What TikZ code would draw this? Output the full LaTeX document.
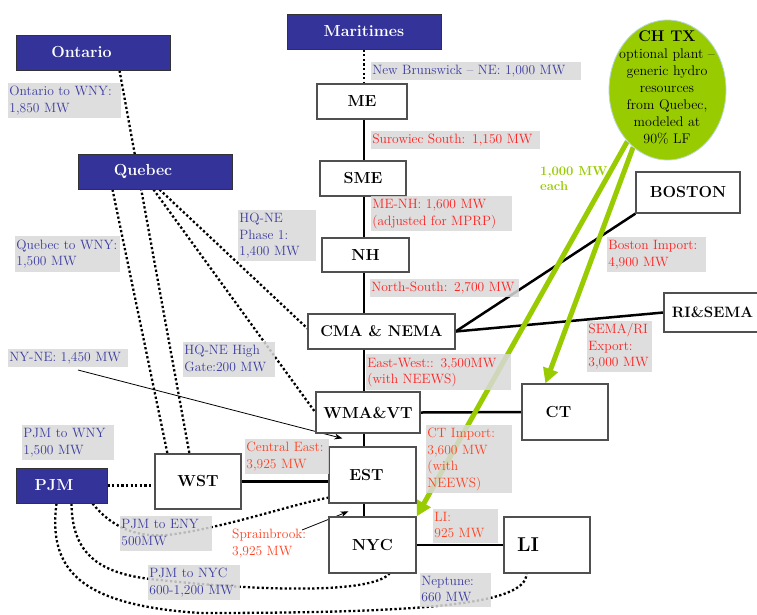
\documentclass[tikz,border=0pt]{standalone}
\usetikzlibrary{shapes.geometric,arrows.meta,calc,backgrounds}
\definecolor{regblue}{RGB}{51,51,153}
\definecolor{lblue}{RGB}{60,60,160}
\definecolor{lred}{RGB}{255,32,32}
\definecolor{lorange}{RGB}{255,64,32}
\definecolor{lgray}{RGB}{217,217,217}
\definecolor{chgreen}{RGB}{153,204,0}
\definecolor{boxedge}{RGB}{80,80,80}
\definecolor{chedge}{RGB}{185,215,225}
\newcommand{\tl}[1]{\begin{tabular}{@{}l@{}}#1\end{tabular}}
\begin{document}
\begin{tikzpicture}[x=1pt,y=-1pt,
  nbox/.style={draw=boxedge,line width=1.2pt,fill=white,inner sep=0pt,font=\bfseries\fontsize{16}{18}\selectfont},
  rbox/.style={draw=black!80,line width=1pt,fill=regblue,text=white,inner sep=0pt,font=\bfseries\fontsize{16}{18}\selectfont},
  lbl/.style 2 args={anchor=north west,fill=lgray,fill opacity=0.85,text opacity=1,inner xsep=1.2pt,inner ysep=0pt,text width=#1,minimum height=#2,font=\fontsize{13.5}{16.5}\selectfont},
  dotl/.style={line width=2.3pt,dash pattern=on 2.3pt off 2.3pt},
  solidl/.style={line width=2.5pt},
  thinarr/.style={line width=0.8pt,-{Stealth[length=8pt,width=6pt]}},
  greenarr/.style={draw=chgreen,line width=5pt,-{Triangle[length=15pt,width=15pt]}}
]
\useasboundingbox (0,0) rectangle (757,614);

% region boxes
\node[rbox,minimum width=154pt,minimum height=35pt] (Ont) at (93,52.5) {Ontario\hspace*{23pt}};
\node[rbox,minimum width=154pt,minimum height=35pt] (Que) at (155,171.5) {Quebec\hspace*{24pt}};
\node[rbox,minimum width=154pt,minimum height=35pt] (Mar) at (364,31.5) {Maritimes};
\node[rbox,minimum width=91pt,minimum height=35pt] (PJM) at (61.5,485.5) {PJM\hspace*{15pt}};

% zone boxes
\node[nbox,minimum width=90pt,minimum height=35pt] (ME) at (362,101.5) {ME};
\node[nbox,minimum width=86pt,minimum height=35pt] (SME) at (363,178.5) {SME};
\node[nbox,minimum width=87pt,minimum height=34pt] (NH) at (365.5,255) {NH};
\node[nbox,minimum width=147pt,minimum height=35pt,font=\bfseries\fontsize{15.5}{18}\selectfont] (CMA) at (381.5,331.5) {CMA \& NEMA};
\node[nbox,minimum width=104pt,minimum height=41pt] (WMA) at (368,412.5) {WMA\&VT};
\node[nbox,minimum width=87pt,minimum height=56pt] (EST) at (372.5,475) {EST\hspace*{12pt}};
\node[nbox,minimum width=87pt,minimum height=56pt] (NYC) at (372.5,545) {NYC};
\node[nbox,minimum width=86pt,minimum height=56pt,font=\bfseries\fontsize{20}{22}\selectfont] (LI) at (547,545) {LI\hspace*{38pt}};
\node[nbox,minimum width=86pt,minimum height=56pt] (CT) at (565,412) {CT\hspace*{13pt}};
\node[nbox,minimum width=86pt,minimum height=55pt] (WST) at (198,481.5) {WST};
\node[nbox,minimum width=104pt,minimum height=41pt] (BOS) at (688,192.5) {BOSTON};
\node[nbox,minimum width=106pt,minimum height=39pt,font=\bfseries\fontsize{15}{18}\selectfont] (RI) at (717,312.5) {RI\&SEMA\hspace*{9pt}};

% CH TX ellipse
\node[ellipse,fill=chgreen,draw=chedge,line width=0.8pt,minimum width=117pt,minimum height=140pt,inner sep=0pt] (CH) at (667.5,90) {};
\node[align=center,inner sep=0pt,font=\fontsize{14}{17}\selectfont] (CHT) at (667,87) {{\bfseries\fontsize{15.5}{17}\selectfont CH TX}\\optional plant --\\generic hydro\\resources\\from Quebec,\\modeled at\\90\% LF};
\node[anchor=north west,inner sep=0pt,align=left,text=chgreen,font=\bfseries\fontsize{13}{15.5}\selectfont] (each) at (540,166) {1,000 MW\\each};

% free ends
\coordinate (nyneS) at (78,370);
\coordinate (sprS) at (302,530);

% connectors
\begin{scope}[on background layer]
\fill[white] (0,0) rectangle (757,614);
% dotted interfaces
\draw[dotl] (Mar.south) -- (Mar.south |- ME.north);
\draw[dotl] ($(Ont.south west)+(104,0)$) -- ($(WST.north west)+(35,0)$);
\draw[dotl] ($(Que.south west)+(35,0)$) -- ($(WST.north west)+(13,0)$);
\draw[dotl] ($(Que.south west)+(82,0)$) -- ($(CMA.west)+(0,-3)$);
\draw[dotl] ($(Que.south west)+(76,0)$) -- (WMA.west);
\draw[dotl] (PJM.east) -- (PJM.east -| WST.west);
\draw[dotl] ($(PJM.south west)+(77,0)$) .. controls (110,525) and (135,540) .. (175,534) .. controls (230,526) and (290,505) .. ($(EST.south west)+(0,-6)$);
\draw[dotl] ($(PJM.south west)+(56,0)$) .. controls (72,555) and (100,575) .. (160,580) .. controls (250,590) and (370,595) .. ($(NYC.south)+(17,0)$);
\draw[dotl] ($(PJM.south west)+(41,0)$) .. controls (48,570) and (80,605) .. (200,613) .. controls (420,613) and (527,605) .. ($(LI.south west)+(23,0)$);
% solid interfaces
\draw[solidl] (ME.south -| Mar.south) -- (SME.north -| Mar.south);
\draw[solidl] (SME.south -| Mar.south) -- (NH.north -| Mar.south);
\draw[solidl] (NH.south -| Mar.south) -- (CMA.north -| Mar.south);
\draw[solidl] (CMA.south -| Mar.south) -- (WMA.north -| Mar.south);
\draw[solidl] (WMA.south -| Mar.south) -- (EST.north -| Mar.south);
\draw[solidl] (EST.south -| Mar.south) -- (NYC.north -| Mar.south);
\draw[solidl] (CMA.east) -- (BOS.south west);
\draw[solidl] (CMA.east) -- (RI.west);
\draw[solidl] (WMA.east) -- (CT.west);
\draw[solidl] (WST.east) -- (WST.east -| EST.west);
\draw[solidl] (NYC.east) -- (LI.west);
% thin arrows
\draw[thinarr] (nyneS) -- ($(EST.north west)+(14,-8)$);
\draw[thinarr] (sprS) -- ($(NYC.north west)+(20,-5)$);
% green arrows
\draw[greenarr] (CH.232) -- (NYC.north east);
\draw[greenarr] (CH.239) -- ($(CT.north west)+(24,0)$);
\end{scope}

% labels
\node[lbl={110pt}{35pt},text=lblue] (lOnt) at (8,83) {\tl{Ontario to WNY:\\1,850 MW}};
\node[lbl={102pt}{36pt},text=lblue] (lQue) at (15,236) {\tl{Quebec to WNY:\\1,500 MW}};
\node[lbl={75pt}{51pt},text=lblue] (lHQ) at (238,210) {\tl{HQ-NE\\Phase 1:\\1,400 MW}};
\node[lbl={117pt}{18pt},text=lblue] (lNYNE) at (8,349) {\tl{NY-NE: 1,450 MW}};
\node[lbl={89pt}{35pt},text=lblue] (lHG) at (183,342) {\tl{HQ-NE High\\Gate:200 MW}};
\node[lbl={89pt}{35pt},text=lblue] (lPW) at (22,425) {\tl{PJM to WNY\\1,500 MW}};
\node[lbl={89pt}{35pt},text=lblue] (lPE) at (120,516) {\tl{PJM to ENY\\500MW}};
\node[lbl={89pt}{35pt},text=lblue] (lPN) at (148,565) {\tl{PJM to NYC\\600-1,200 MW}};
\node[lbl={81pt}{35pt},text=lorange] (lCE) at (245,439) {\tl{Central East:\\3,925 MW}};
\node[lbl={207pt}{18pt},text=lblue] (lNB) at (371,62) {\tl{New Brunswick -- NE: 1,000 MW}};
\node[lbl={166pt}{18pt},text=lred] (lSur) at (371,131) {\tl{Surowiec South: 1,150 MW}};
\node[lbl={138pt}{35pt},text=lred] (lMN) at (371,196) {\tl{ME-NH: 1,600 MW\\(adjusted for MPRP)}};
\node[lbl={146pt}{18pt},text=lred] (lNS) at (370,279) {\tl{North-South: 2,700 MW}};
\node[lbl={142pt}{36pt},text=lred] (lEW) at (366,354) {\tl{East-West:: 3,500MW\\(with NEEWS)}};
\node[lbl={83pt}{68pt},text=lorange] (lCT) at (426,425) {\tl{CT Import:\\3,600 MW\\(with\\NEEWS)}};
\node[lbl={62pt}{34pt},text=lorange] (lLI) at (433,509) {\tl{LI:\\925 MW}};
\node[lbl={68pt}{34pt},text=lblue] (lNep) at (420,573) {\tl{Neptune:\\660 MW}};
\node[lbl={96pt}{35pt},text=lred] (lBos) at (607,237) {\tl{Boston Import:\\4,900 MW}};
\node[lbl={62pt}{51pt},text=lred] (lSema) at (587,321) {\tl{SEMA/RI\\Export:\\3,000 MW}};
\node[anchor=north west,inner xsep=0pt,inner ysep=0pt,text=lorange,font=\fontsize{13.5}{16.5}\selectfont] (lSpr) at (232,527) {\tl{Sprainbrook:\\3,925 MW}};
\end{tikzpicture}
\end{document}
